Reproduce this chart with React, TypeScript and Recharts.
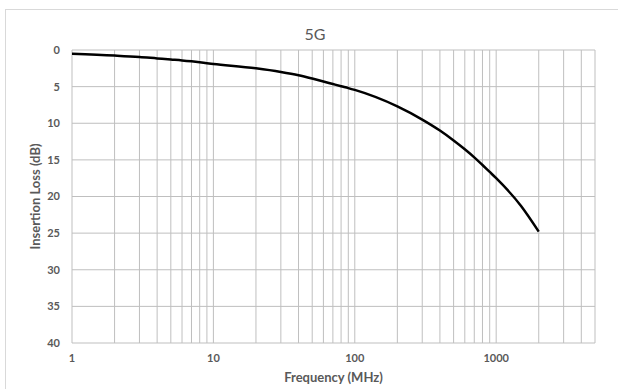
import { LineChart, Line, XAxis, YAxis, CartesianGrid, ReferenceLine } from 'recharts'

const FREQUENCY = [1, 2, 3, 4, 5, 6, 7, 8, 9, 10, 20, 30, 40, 50, 60, 70, 80, 90, 100, 200, 300, 400, 500, 600, 700, 800, 900, 1000, 1500, 2000]
const INSERTION_LOSS = [0.5, 0.75, 0.95, 1.15, 1.3, 1.42, 1.55, 1.68, 1.8, 1.9, 2.5, 3.0, 3.45, 3.9, 4.3, 4.65, 4.95, 5.2, 5.45, 7.7, 9.5, 11.0, 12.35, 13.55, 14.65, 15.7, 16.65, 17.5, 21.3, 24.8]

const X_TICKS = [1, 10, 100, 1000]
const X_GRID = [1, 2, 3, 4, 5, 6, 7, 8, 9, 10, 20, 30, 40, 50, 60, 70, 80, 90, 100, 200, 300, 400, 500, 600, 700, 800, 900, 1000, 2000, 3000, 4000, 5000]
const Y_TICKS = [0, 5, 10, 15, 20, 25, 30, 35, 40]

const data = FREQUENCY.map((f, i) => ({ f, loss: INSERTION_LOSS[i] }))

const FONT = 'Lato, "Open Sans", sans-serif'
const GRID = '#bfbfbf'
const TEXT = '#595959'

export default function App() {
  return (
    <div style={{ position: 'absolute', left: 0, top: 0, width: 618, height: 389, overflow: 'hidden', background: '#fff', fontFamily: FONT }}>
      <div style={{ position: 'absolute', left: 5, top: 9, width: 640, height: 420, border: '1px solid #d9d9d9', boxSizing: 'border-box' }} />
      <div style={{ position: 'absolute', left: 215, width: 200, top: 24, textAlign: 'center', fontSize: 16, color: TEXT, lineHeight: '20px' }}>
        5G
      </div>
      <div style={{ position: 'absolute', left: 0, top: 0 }}>
        <LineChart width={618} height={389} data={data} margin={{ top: 50, right: 23, bottom: 0, left: 0 }}>
          <CartesianGrid vertical={false} stroke={GRID} strokeWidth={1} />
          {X_GRID.map((v) => (
            <ReferenceLine key={v} x={v} stroke={GRID} strokeWidth={1} ifOverflow="visible" />
          ))}
          <XAxis
            dataKey="f"
            type="number"
            scale="log"
            domain={[1, 5000]}
            ticks={X_TICKS}
            allowDataOverflow
            axisLine={false}
            tickLine={false}
            tickMargin={5}
            height={46}
            tick={{ fill: TEXT, fontSize: 11, fontWeight: 700, fontFamily: FONT }}
            label={{ value: 'Frequency (MHz)', position: 'insideBottom', offset: 7, fill: TEXT, fontSize: 13, fontWeight: 700, fontFamily: FONT }}
          />
          <YAxis
            type="number"
            reversed
            domain={[0, 40]}
            ticks={Y_TICKS}
            axisLine={false}
            tickLine={false}
            tickMargin={6}
            width={72}
            tick={{ fill: TEXT, fontSize: 11, fontWeight: 700, fontFamily: FONT }}
            label={{ value: 'Insertion Loss (dB)', angle: -90, position: 'insideLeft', offset: 35, fill: TEXT, fontSize: 13, fontWeight: 700, fontFamily: FONT, style: { textAnchor: 'middle' } }}
          />
          <Line type="monotone" dataKey="loss" stroke="#000" strokeWidth={2.5} dot={false} isAnimationActive={false} />
        </LineChart>
      </div>
    </div>
  )
}
